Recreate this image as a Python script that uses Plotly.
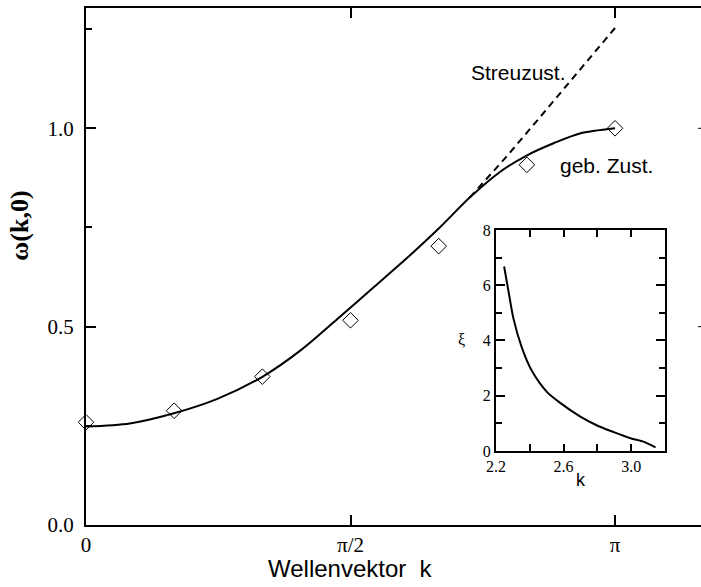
import math
import plotly.graph_objects as go

PI = math.pi

# --- main panel data ---
k_sym = [0, PI / 6, PI / 3, PI / 2, 2 * PI / 3, 5 * PI / 6, PI]
omega_sym = [0.259, 0.288, 0.374, 0.516, 0.703, 0.908, 1.0]

k_bound = [0, 0.26, 0.517, 0.78, 1.045, 1.28, 1.508, 1.71, 1.906, 2.096,
           2.28, 2.458, 2.619, 2.78, 2.933, PI]
omega_bound = [0.248, 0.256, 0.281, 0.318, 0.373, 0.442, 0.525, 0.600, 0.673,
               0.748, 0.826, 0.890, 0.932, 0.963, 0.987, 1.0]

k_scatt = [2.28, 2.5, 2.7, 2.9, 3.1, PI]
omega_scatt = [0.826, 0.93, 1.03, 1.13, 1.232, 1.253]

x_tickvals = [0, PI / 2, PI]
x_ticktext = ["0", "π/2", "π"]
y_tickvals = [0.0, 0.5, 1.0]
y_ticktext = ["0.0", "0.5", "1.0"]

# --- inset data ---
k_inset = [2.248, 2.274, 2.303, 2.353, 2.412, 2.501, 2.580, 2.699, 2.798,
           2.897, 2.996, 3.075, 3.144]
xi_inset = [6.68, 5.78, 4.80, 3.74, 2.90, 2.14, 1.74, 1.24, 0.92, 0.68, 0.46,
            0.33, 0.13]
inset_xtickvals = [2.2, 2.4, 2.6, 2.8, 3.0, 3.2]
inset_xticktext = ["2.2", "", "2.6", "", "3.0", ""]
inset_ytickvals = [0, 2, 4, 6, 8]
inset_yticktext = ["0", "2", "4", "6", "8"]

SERIF = "Liberation Serif"
SANS = "Liberation Sans"

fig = go.Figure()

fig.add_trace(go.Scatter(x=k_bound, y=omega_bound, mode="lines",
                         line=dict(color="black", width=2, shape="spline", smoothing=0.8),
                         showlegend=False, xaxis="x", yaxis="y"))
fig.add_trace(go.Scatter(x=k_scatt, y=omega_scatt, mode="lines",
                         line=dict(color="black", width=2, dash="7px,5px"),
                         showlegend=False, xaxis="x", yaxis="y"))
fig.add_trace(go.Scatter(x=k_sym, y=omega_sym, mode="markers",
                         marker=dict(symbol="diamond-open", size=12, color="black",
                                     line=dict(width=1, color="black")),
                         showlegend=False, cliponaxis=False, xaxis="x", yaxis="y"))
fig.add_trace(go.Scatter(x=k_inset, y=xi_inset, mode="lines",
                         line=dict(color="black", width=2, shape="spline", smoothing=0.8),
                         showlegend=False, xaxis="x2", yaxis="y2"))

x_px0, x_px1 = 86, 701
px_per_unit = 168.4
x_max = (x_px1 - x_px0) / px_per_unit
y_max = (525 - 5) / 399.0


def px_x(p):
    return (p - x_px0) / (x_px1 - x_px0)


def px_y(p):
    return (525 - p) / 520.0


def label(text, x, y, family, size, angle=0):
    return dict(text=text, xref="paper", yref="paper", x=px_x(x), y=px_y(y),
                xanchor="center", yanchor="middle", showarrow=False, textangle=angle,
                font=dict(family=family, size=size, color="black"))


# stubs of the (cropped-away) right-hand axis ticks at the image edge
edge_ticks = [dict(type="line", xref="paper", yref="y", x0=px_x(698), x1=px_x(701),
                   y0=v, y1=v, line=dict(color="black", width=1))
              for v in y_tickvals[1:]]

fig.update_layout(
    width=701, height=587,
    margin=dict(l=86, r=0, t=5, b=62),
    paper_bgcolor="white", plot_bgcolor="white",
    xaxis=dict(range=[0, x_max], domain=[0, 1], anchor="y",
               tickvals=x_tickvals, ticktext=x_ticktext,
               ticks="inside", ticklen=10, tickwidth=2, tickcolor="black",
               showline=True, linewidth=2, linecolor="black", mirror="ticks",
               showgrid=False, zeroline=False,
               tickfont=dict(family=SERIF, size=21, color="black")),
    yaxis=dict(range=[0, y_max], domain=[0, 1], anchor="x",
               tickvals=y_tickvals, ticktext=y_ticktext,
               ticks="inside", ticklen=10, tickwidth=2, tickcolor="black",
               minor=dict(dtick=0.25, tick0=0, ticks="inside", ticklen=6, tickwidth=2,
                          tickcolor="black", showgrid=False),
               showline=True, linewidth=2, linecolor="black",
               showgrid=False, zeroline=False, ticklabelstandoff=6,
               tickfont=dict(family=SERIF, size=21, color="black")),
    xaxis2=dict(range=[2.2, 3.2], domain=[px_x(496), px_x(665)], anchor="y2",
                tickvals=inset_xtickvals, ticktext=inset_xticktext,
                ticks="inside", ticklen=7, tickwidth=2, tickcolor="black",
                showline=True, linewidth=2, linecolor="black", mirror="ticks",
                showgrid=False, zeroline=False,
                tickfont=dict(family=SERIF, size=16, color="black")),
    yaxis2=dict(range=[0, 8], domain=[px_y(450.5), px_y(228.3)], anchor="x2",
                tickvals=inset_ytickvals, ticktext=inset_yticktext,
                ticks="inside", ticklen=9, tickwidth=2, tickcolor="black",
                minor=dict(dtick=1, tick0=0, ticks="inside", ticklen=6, tickwidth=2,
                           tickcolor="black", showgrid=False),
                showline=True, linewidth=2, linecolor="black", mirror="ticks",
                showgrid=False, zeroline=False,
                tickfont=dict(family=SERIF, size=16, color="black")),
    shapes=edge_ticks,
    annotations=[
        label("Wellenvektor\u00a0\u00a0k", 350, 569, SANS, 24),
        label("<b>ω(k,0)</b>", 20, 224, SERIF, 26, angle=-90),
        label("Streuzust.", 518, 70, SANS, 21),
        label("geb. Zust.", 606, 163, SANS, 21),
        label("ξ", 462, 338, SERIF, 16),
        label("k", 581, 480, SANS, 18),
    ],
)

fig.write_html("out.html")
